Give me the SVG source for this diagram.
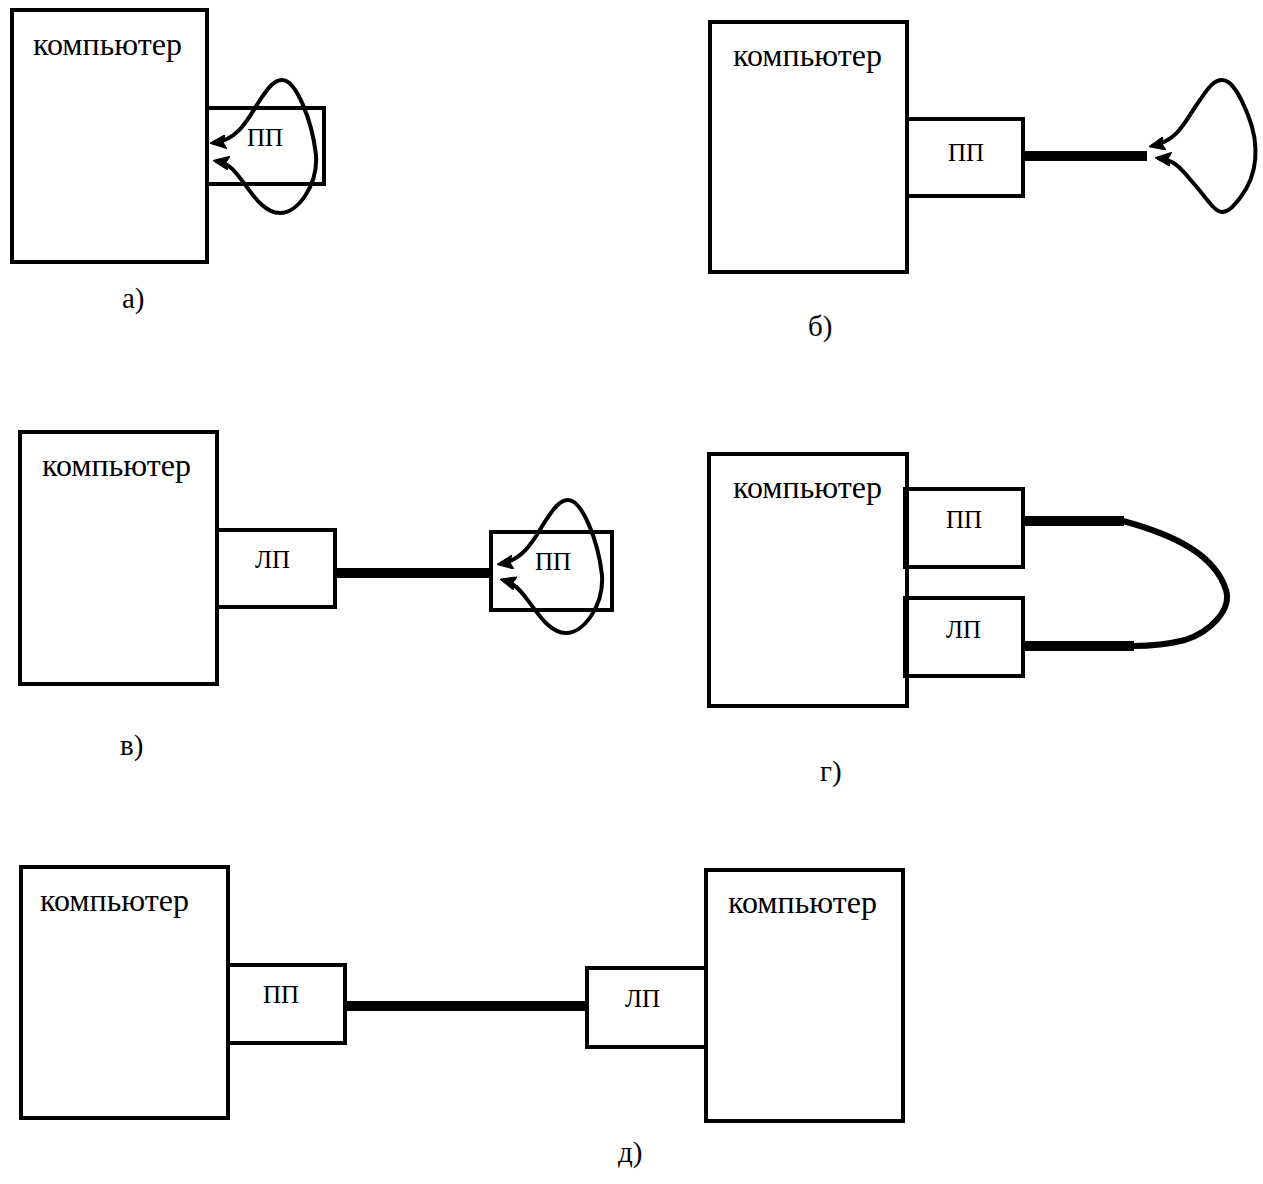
<svg xmlns="http://www.w3.org/2000/svg" width="1263" height="1184" viewBox="0 0 1263 1184">
<style>
.box{fill:none;stroke:#000;stroke-width:4}
.t{font-family:"Liberation Serif","Times New Roman",serif;font-size:32px;fill:#000}
.s{font-family:"Liberation Serif","Times New Roman",serif;font-size:25px;fill:#000}
.l{font-family:"Liberation Serif","Times New Roman",serif;font-size:29px;fill:#000}
.cable{stroke:#000;stroke-width:10;fill:none}
.loop{stroke:#000;stroke-width:4;fill:none;marker-start:url(#ah);marker-end:url(#ah)}
</style>
<defs>
<marker id="ah" markerUnits="userSpaceOnUse" viewBox="0 0 16 14" markerWidth="16" markerHeight="14" refX="13" refY="7" orient="auto-start-reverse">
<path d="M0,0 L16,7 L0,14 L3,7 z" fill="#000" stroke="#000" stroke-width="1"/>
</marker>
</defs>
<rect width="1263" height="1184" fill="#fff"/>

<g id="a">
<g id="a-comp"><rect class="box" x="12" y="10" width="195" height="252"/><text class="t" x="33" y="55">компьютер</text></g>
<g id="a-pp"><rect class="box" x="207" y="108" width="117" height="76"/><text class="s" x="247" y="146">ПП</text></g>
<text class="l" x="122" y="308">а)</text>
</g>

<g id="b">
<g id="b-comp"><rect class="box" x="710" y="22" width="197" height="250"/><text class="t" x="733" y="66">компьютер</text></g>
<g id="b-pp"><rect class="box" x="907" y="119" width="116" height="77"/><text class="s" x="948" y="161">ПП</text></g>
<text class="l" x="808" y="336">б)</text>
</g>

<g id="v">
<g id="v-comp"><rect class="box" x="20" y="432" width="197" height="252"/><text class="t" x="42" y="476">компьютер</text></g>
<g id="v-lp"><rect class="box" x="217" y="530" width="118" height="77"/><text class="s" x="255" y="568">ЛП</text></g>
<g id="v-pp"><rect class="box" x="491" y="532" width="121" height="78"/><text class="s" x="535" y="570">ПП</text></g>
<text class="l" x="120" y="755">в)</text>
</g>

<g id="g">
<g id="g-comp"><rect class="box" x="709" y="454" width="198" height="252"/><text class="t" x="733" y="498">компьютер</text></g>
<g id="g-pp"><rect class="box" x="905" y="489" width="118" height="78"/><text class="s" x="946" y="528">ПП</text></g>
<g id="g-lp"><rect class="box" x="905" y="598" width="118" height="78"/><text class="s" x="946" y="638">ЛП</text></g>
<text class="l" x="820" y="781">г)</text>
</g>

<g id="d">
<g id="d-comp1"><rect class="box" x="21" y="867" width="207" height="251"/><text class="t" x="40" y="911">компьютер</text></g>
<g id="d-pp"><rect class="box" x="228" y="965" width="117" height="78"/><text class="s" x="263" y="1003">ПП</text></g>
<g id="d-lp"><rect class="box" x="587" y="968" width="119" height="79"/><text class="s" x="625" y="1007">ЛП</text></g>
<g id="d-comp2"><rect class="box" x="706" y="870" width="197" height="251"/><text class="t" x="728" y="913">компьютер</text></g>
<text class="l" x="618" y="1162">д)</text>
</g>

<g id="connectors">
<path class="loop" d="M213,143 C240,140 250,115 260,100 C268,88 274,80 282,80 C296,80 312,120 316,155 C318,185 298,213 280,213 C262,213 250,190 240,178 C234,170 228,163 216,161"/>
<line class="cable" x1="1023" y1="156" x2="1147" y2="156"/>
<path class="loop" d="M1152,146 C1180,140 1185,120 1200,100 C1210,85 1215,80 1222,80 C1232,80 1240,95 1248,115 C1260,145 1258,175 1240,198 C1232,208 1228,212 1222,212 C1215,212 1208,200 1195,185 C1182,170 1176,160 1158,158"/>
<line class="cable" x1="335" y1="573" x2="491" y2="573"/>
<path class="loop" d="M500,564 C526,560 536,535 546,520 C554,508 560,500 568,500 C582,500 598,540 602,575 C604,605 584,633 566,633 C548,633 536,610 526,598 C520,590 514,583 503,580"/>
<line class="cable" x1="1023" y1="521" x2="1124" y2="521"/>
<line class="cable" x1="1023" y1="646" x2="1134" y2="646"/>
<path d="M1123,521 C1175,535 1215,555 1226,590 C1232,610 1210,632 1185,640 C1165,645 1145,646 1133,646" stroke="#000" stroke-width="6" fill="none"/>
<line class="cable" x1="345" y1="1006" x2="587" y2="1006"/>
</g>
</svg>
